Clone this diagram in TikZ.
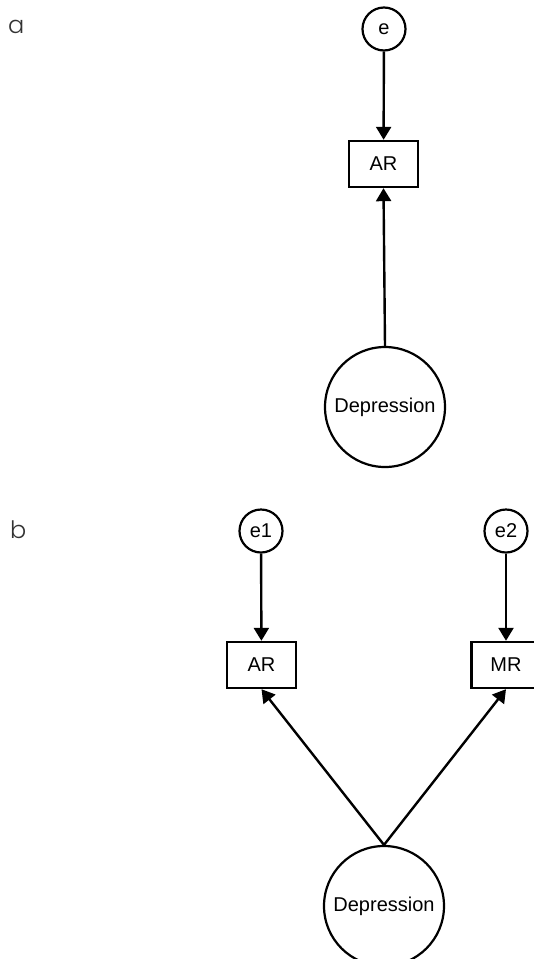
\documentclass[tikz,border=0pt]{standalone}
\usepackage{fontspec}
\setmainfont{Liberation Sans}
\newfontfamily\panelfont{Poppins Light}
\usetikzlibrary{arrows.meta}
\tikzset{
  latent/.style={draw, circle, line width=2.2pt, inner sep=0pt, font=\fontsize{20}{24}\selectfont},
  errnode/.style={draw, circle, line width=2.2pt, inner sep=0pt, minimum size=43pt, font=\fontsize{20}{24}\selectfont},
  obs/.style={draw, rectangle, line width=2.4pt, inner sep=0pt, minimum width=69pt, minimum height=46pt, font=\fontsize{20}{24}\selectfont},
  path/.style={line width=2.4pt, -{Triangle[length=13pt,width=15pt]}},
  panel/.style={anchor=base west, inner sep=0pt, font=\panelfont\fontsize{24}{28}\selectfont, text=black!80}
}
\begin{document}
\begin{tikzpicture}[x=1pt,y=-1pt]
\useasboundingbox (0,0) rectangle (534,959);
% panel a
\node[panel] (la) at (8,33) {a};
\node[errnode] (e) at (384,29) {e};
\node[obs] (ar) at (383.5,164) {AR};
\node[latent, minimum size=120pt] (dep) at (385,407) {Depression};
\draw[path] (e) -- (ar);
\draw[path] (dep.north) -- (ar.south);
% panel b
\node[panel] (lb) at (10,538) {b};
\node[errnode] (e1) at (261,531) {e1};
\node[errnode] (e2) at (506,531) {e2};
\node[obs] (ar2) at (261.5,665) {AR};
\node[obs] (mr) at (506,665) {MR};
\node[latent, minimum size=120pt] (dep2) at (384,906) {Depression};
\draw[path] (e1) -- (ar2);
\draw[path] (e2) -- (mr);
\draw[path] (dep2.north) -- (ar2.south);
\draw[path] (dep2.north) -- (mr.south);
\end{tikzpicture}
\end{document}
